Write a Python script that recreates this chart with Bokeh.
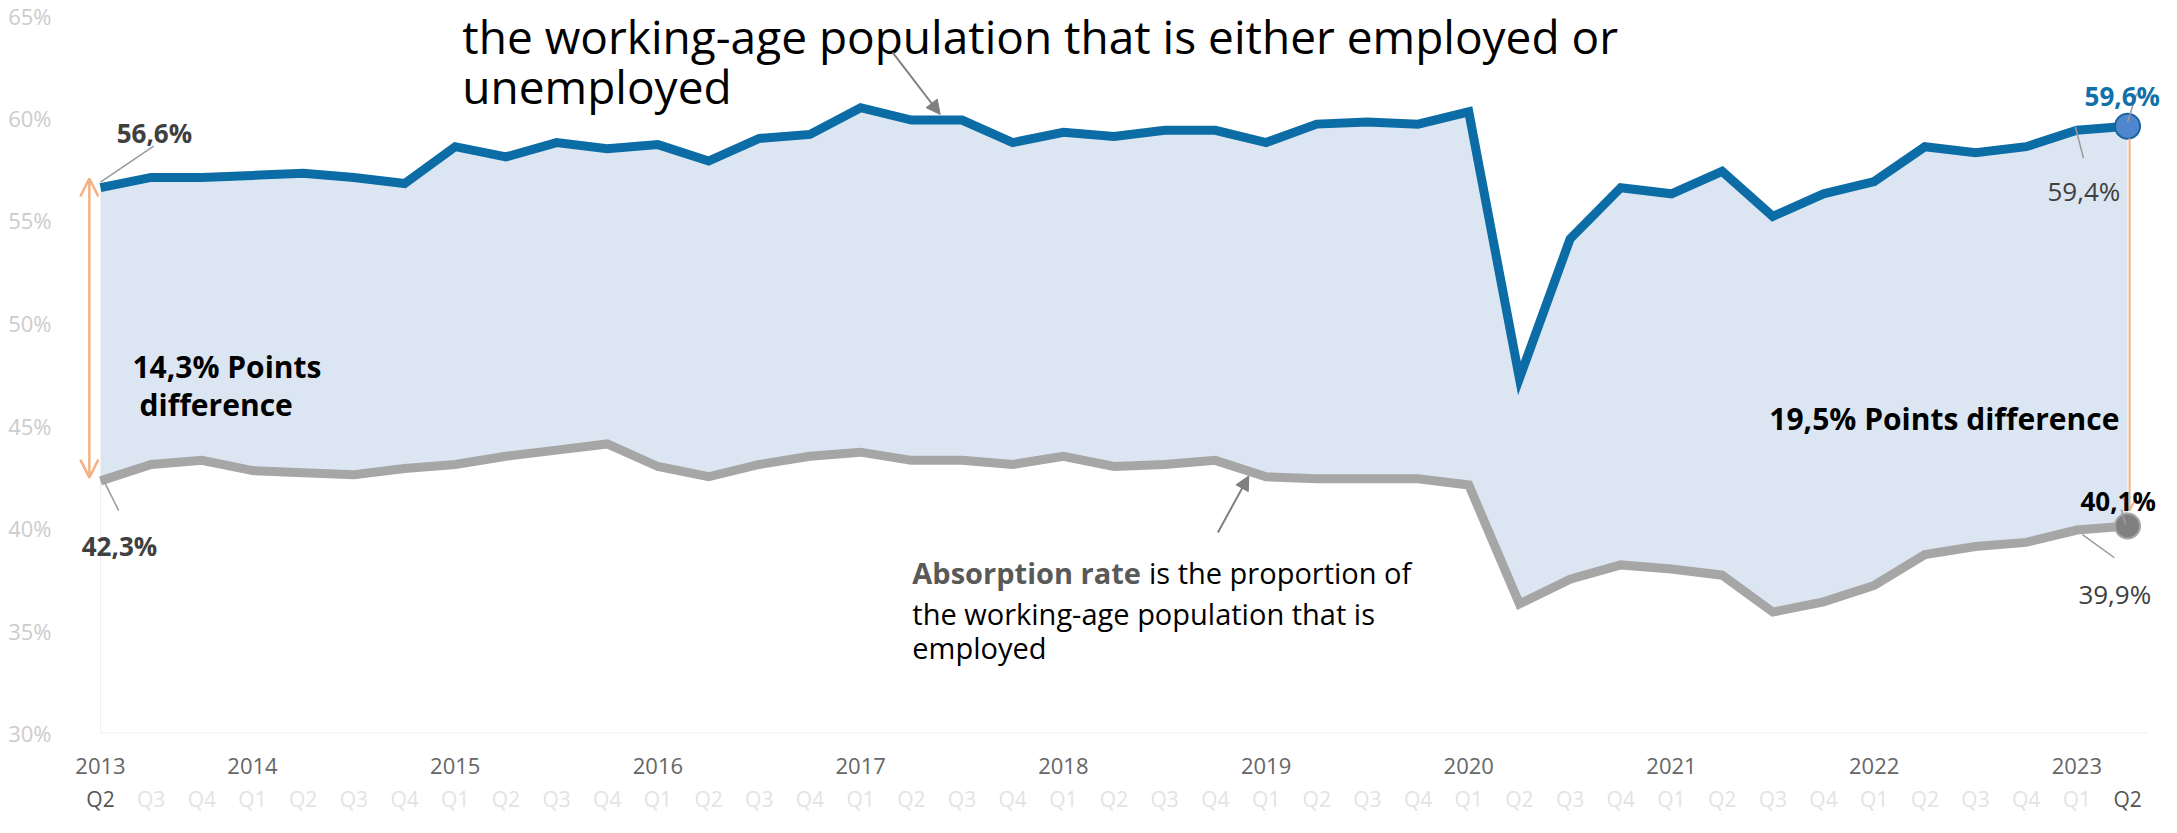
import numpy as np
from bokeh.plotting import figure
from bokeh.models import Range1d, LinearAxis, FixedTicker, Label, Arrow, OpenHead, NormalHead
from bokeh.core.properties import value
from bokeh.embed import file_html
from bokeh.resources import INLINE

# ---------------- data ----------------
years = ["2013", "2014", "2015", "2016", "2017", "2018", "2019", "2020", "2021", "2022", "2023"]
quarters = ["Q2", "Q3", "Q4"] + ["Q1", "Q2", "Q3", "Q4"] * 9 + ["Q1", "Q2"]

# Participation rate (%): employed or unemployed share of working-age population
participation = [56.6, 57.1, 57.1, 57.2, 57.3, 57.1, 56.8, 58.6, 58.1, 58.8,
                 58.5, 58.7, 57.9, 59.0, 59.2, 60.5, 59.9, 59.9, 58.8, 59.3,
                 59.1, 59.4, 59.4, 58.8, 59.7, 59.8, 59.7, 60.3, 47.3, 54.1,
                 56.6, 56.3, 57.4, 55.2, 56.3, 56.9, 58.6, 58.3, 58.6, 59.4,
                 59.6]
# Absorption rate (%): employed share of working-age population
absorption = [42.3, 43.1, 43.3, 42.8, 42.7, 42.6, 42.9, 43.1, 43.5, 43.8,
              44.1, 43.0, 42.5, 43.1, 43.5, 43.7, 43.3, 43.3, 43.1, 43.5,
              43.0, 43.1, 43.3, 42.5, 42.4, 42.4, 42.4, 42.1, 36.3, 37.5,
              38.2, 38.0, 37.7, 35.9, 36.4, 37.2, 38.7, 39.1, 39.3, 39.9,
              40.1]
y_ticks = [30, 35, 40, 45, 50, 55, 60, 65]

x = list(range(len(quarters)))
n = len(x) - 1

FONT = "Open Sans"
BLUE = "#0b6ca6"
GRAY = "#a6a6a6"
ORANGE = "#f4b183"


def pct(v):
    return f"{v:.1f}".replace(".", ",") + "%"


p = figure(width=2161, height=817, output_backend="svg", toolbar_location=None,
           x_range=Range1d(-0.868, n + 0.67), y_range=Range1d(25.88, 65.73),
           x_axis_type=None, y_axis_type=None,
           min_border_left=56, min_border_right=0, min_border_top=0, min_border_bottom=0)
p.outline_line_color = None
p.background_fill_color = "white"
p.border_fill_color = "white"

# ---------------- y axis ----------------
yax = LinearAxis(ticker=FixedTicker(ticks=y_ticks),
                 major_label_overrides={t: f"{t}%" for t in y_ticks},
                 axis_line_color=None, major_tick_line_color=None, minor_tick_line_color=None,
                 major_tick_in=0, major_tick_out=0, major_label_standoff=5,
                 major_label_text_font=FONT, major_label_text_font_size="22px",
                 major_label_text_color="#cccccc")
p.add_layout(yax, "left")

# ---------------- category rows (years / quarters) ----------------
year_ticks = [0] + [i for i, q in enumerate(quarters) if q == "Q1"]
p.text(x=year_ticks, y=[28.37] * len(year_ticks), text=years,
       text_font=value(FONT), text_font_size="22px", text_color="#666666",
       text_align="center", text_baseline="middle")
q_colors = ["#555555" if i in (0, n) else "#e3e3e3" for i in x]
p.text(x=x, y=[26.78] * len(x), text=quarters,
       text_font=value(FONT), text_font_size="21px", text_color=q_colors,
       text_align="center", text_baseline="middle")

# faint base line and first-quarter guide
p.line([x[0], x[-1] + 0.4], [y_ticks[0], y_ticks[0]], line_color="#f0f0f0", line_width=1)
p.line([x[0], x[0]], [y_ticks[0], absorption[0]], line_color="#f0f0f0", line_width=1)

# ---------------- data marks ----------------
p.varea(x=x, y1=absorption, y2=participation, fill_color="#dce6f2")
p.line(x, participation, line_color=BLUE, line_width=9, line_join="miter")
p.line(x, absorption, line_color=GRAY, line_width=9, line_join="miter")

# ---------------- difference arrows ----------------
p.add_layout(Arrow(x_start=-0.22, y_start=absorption[0] + 0.16, x_end=-0.22, y_end=participation[0] + 0.45,
                   start=OpenHead(size=18, line_color=ORANGE, line_width=2.5),
                   end=OpenHead(size=18, line_color=ORANGE, line_width=2.5),
                   line_color=ORANGE, line_width=2.5))
p.add_layout(Arrow(x_start=n + 0.04, y_start=participation[-1] - 0.6, x_end=n + 0.04, y_end=absorption[-1] + 0.75,
                   end=OpenHead(size=14, line_color=ORANGE, line_width=2),
                   line_color=ORANGE, line_width=2))

p.scatter([x[-1]], [participation[-1]], size=25, fill_color="#4f87cf", line_color="#1b64a0", line_width=2)
p.scatter([x[-1]], [absorption[-1]], size=25, fill_color="#808080", line_color="#a6a6a6", line_width=2)

# ---------------- leader lines ----------------
lead_x0 = [x[0] + 0.0, x[0] + 0.08, x[-1] + 0.0, x[-2] - 0.03, x[-1] - 0.12, x[-2] + 0.11]
lead_y0 = [participation[0] + 0.27, absorption[0] - 0.07, participation[-1] + 0.2,
           participation[-2] + 0.17, absorption[-1] + 0.8, absorption[-2] - 0.22]
lead_x1 = [x[0] + 1.05, x[0] + 0.36, x[-1] + 0.18, x[-2] + 0.13, x[-1] - 0.04, x[-2] + 0.74]
lead_y1 = [participation[0] + 2.03, absorption[0] - 1.45, participation[-1] + 1.59,
           participation[-2] - 1.36, absorption[-1] + 0.07, absorption[-2] - 1.35]
p.segment(lead_x0, lead_y0, lead_x1, lead_y1, line_color="#9a9a9a", line_width=1.5)


# ---------------- value labels ----------------
def lab(xv, yv, text, color, bold, align="left", size="26px"):
    p.add_layout(Label(x=xv, y=yv, text=text, text_font=FONT, text_font_size=size,
                       text_color=color, text_font_style="bold" if bold else "normal",
                       text_align=align, text_baseline="alphabetic"))


lab(x[0] + 0.32, participation[0] + 2.69, pct(participation[0]), "#404040", True)
lab(x[0] - 0.37, absorption[0] - 3.2, pct(absorption[0]), "#404040", True)
lab(x[-1] + 0.64, participation[-1] + 1.45, pct(participation[-1]), "#1170aa", True, align="right")
lab(x[-2] - 0.58, participation[-2] - 2.94, pct(participation[-2]), "#404040", False)
lab(x[-1] - 0.93, absorption[-1] + 1.24, pct(absorption[-1]), "#000000", True)
lab(x[-2] + 0.03, absorption[-2] - 3.1, pct(absorption[-2]), "#404040", False)

diff_start = participation[0] - absorption[0]
diff_end = participation[-1] - absorption[-1]
lab(0.63, 47.88, pct(diff_start) + " Points", "#000000", True, size="30px")
lab(0.77, 46.02, "difference", "#000000", True, size="30px")
lab(39.84, 45.34, pct(diff_end) + " Points difference", "#000000", True, align="right", size="30px")

# ---------------- explanatory notes ----------------
lab(7.14, 64.02, "the working-age population that is either employed or", "#000000", False, size="46px")
lab(7.14, 61.54, "unemployed", "#000000", False, size="46px")
tip_top = float(np.interp(16.57, x, participation)) + 0.27
p.add_layout(Arrow(x_start=15.63, y_start=63.2, x_end=16.57, y_end=tip_top,
                   end=NormalHead(size=14, fill_color="#7f7f7f", line_color="#7f7f7f"),
                   line_color="#808080", line_width=2))

lab(16.02, 37.83, "Absorption rate", "#595959", True, size="29px")
lab(20.69, 37.83, "is the proportion of", "#000000", False, size="29px")
lab(16.02, 35.83, "the working-age population that is", "#000000", False, size="29px")
lab(16.02, 34.17, "employed", "#000000", False, size="29px")
tip_bot = float(np.interp(22.66, x, absorption)) - 0.23
p.add_layout(Arrow(x_start=22.05, y_start=39.78, x_end=22.66, y_end=tip_bot,
                   end=NormalHead(size=14, fill_color="#7f7f7f", line_color="#7f7f7f"),
                   line_color="#808080", line_width=2))

open("out.html", "w").write(file_html(p, INLINE))
